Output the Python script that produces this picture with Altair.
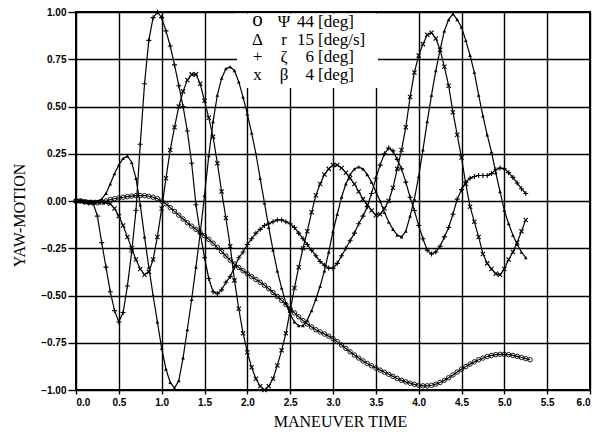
import altair as alt
import pandas as pd

# ---- sampled time grid (maneuver time) ----
T = [0.00, 0.05, 0.10, 0.15, 0.20, 0.25, 0.30, 0.35, 0.40, 0.45,
     0.50, 0.55, 0.60, 0.65, 0.70, 0.75, 0.80, 0.85, 0.90, 0.95,
     1.00, 1.05, 1.10, 1.15, 1.20, 1.25, 1.30, 1.35, 1.40, 1.45,
     1.50, 1.55, 1.60, 1.65, 1.70, 1.75, 1.80, 1.85, 1.90, 1.95,
     2.00, 2.05, 2.10, 2.15, 2.20, 2.25, 2.30, 2.35, 2.40, 2.45,
     2.50, 2.55, 2.60, 2.65, 2.70, 2.75, 2.80, 2.85, 2.90, 2.95,
     3.00, 3.05, 3.10, 3.15, 3.20, 3.25, 3.30, 3.35, 3.40, 3.45,
     3.50, 3.55, 3.60, 3.65, 3.70, 3.75, 3.80, 3.85, 3.90, 3.95,
     4.00, 4.05, 4.10, 4.15, 4.20, 4.25, 4.30, 4.35, 4.40, 4.45,
     4.50, 4.55, 4.60, 4.65, 4.70, 4.75, 4.80, 4.85, 4.90, 4.95,
     5.00, 5.05, 5.10, 5.15, 5.20, 5.25, 5.30]

# ---- Psi (heading), circles ----
PSI = [0.000, 0.000, -0.005, -0.008, -0.010, -0.010, -0.006, 0.000, 0.008, 0.012,
       0.016, 0.020, 0.023, 0.026, 0.028, 0.029, 0.028, 0.025, 0.020, 0.012,
       0.000, -0.015, -0.035, -0.055, -0.075, -0.095, -0.115, -0.133, -0.150, -0.167,
       -0.184, -0.203, -0.223, -0.245, -0.268, -0.291, -0.313, -0.333, -0.352, -0.369,
       -0.385, -0.400, -0.415, -0.430, -0.446, -0.464, -0.484, -0.505, -0.526, -0.548,
       -0.570, -0.592, -0.613, -0.633, -0.651, -0.667, -0.681, -0.693, -0.704, -0.715,
       -0.728, -0.744, -0.762, -0.780, -0.798, -0.815, -0.831, -0.846, -0.860, -0.872,
       -0.884, -0.895, -0.906, -0.917, -0.928, -0.939, -0.949, -0.957, -0.964, -0.970,
       -0.975, -0.978, -0.978, -0.975, -0.969, -0.960, -0.949, -0.935, -0.920, -0.905,
       -0.890, -0.876, -0.863, -0.851, -0.840, -0.831, -0.823, -0.817, -0.813, -0.811,
       -0.811, -0.813, -0.817, -0.822, -0.828, -0.834, -0.840]

# ---- r (yaw rate), triangles ----
R = [0.000, 0.000, -0.003, -0.005, -0.005, 0.000, 0.010, 0.040, 0.090, 0.145,
     0.190, 0.225, 0.238, 0.205, 0.120, -0.020, -0.190, -0.350, -0.500, -0.640,
     -0.780, -0.890, -0.960, -0.990, -0.950, -0.830, -0.680, -0.520, -0.350, -0.170,
     0.030, 0.240, 0.420, 0.560, 0.650, 0.700, 0.710, 0.690, 0.630, 0.550,
     0.460, 0.360, 0.250, 0.120, -0.010, -0.140, -0.260, -0.370, -0.460, -0.540,
     -0.600, -0.640, -0.660, -0.660, -0.630, -0.580, -0.520, -0.450, -0.370, -0.270,
     -0.160, -0.070, 0.020, 0.090, 0.140, 0.170, 0.180, 0.170, 0.140, 0.100,
     0.050, 0.000, -0.060, -0.110, -0.150, -0.180, -0.190, -0.160, -0.080, 0.010,
     0.130, 0.270, 0.420, 0.560, 0.690, 0.800, 0.900, 0.960, 0.990, 0.960,
     0.920, 0.850, 0.770, 0.680, 0.560, 0.450, 0.350, 0.260, 0.150, 0.050,
     -0.050, -0.120, -0.180, -0.230, -0.270, -0.300]

# ---- zeta (rudder), plus signs ----
ZETA = [0.000, 0.000, -0.005, -0.010, -0.012, -0.080, -0.220, -0.350, -0.480, -0.580,
        -0.640, -0.590, -0.450, -0.270, -0.050, 0.300, 0.620, 0.850, 0.970, 1.000,
        0.970, 0.900, 0.820, 0.720, 0.610, 0.500, 0.370, 0.200, -0.020, -0.170,
        -0.300, -0.410, -0.480, -0.490, -0.470, -0.430, -0.400, -0.350, -0.300, -0.270,
        -0.230, -0.200, -0.170, -0.150, -0.130, -0.120, -0.110, -0.100, -0.100, -0.110,
        -0.120, -0.140, -0.170, -0.200, -0.230, -0.260, -0.290, -0.320, -0.340, -0.355,
        -0.355, -0.330, -0.290, -0.250, -0.210, -0.170, -0.120, -0.080, -0.030, 0.040,
        0.120, 0.190, 0.250, 0.280, 0.265, 0.220, 0.170, 0.100, 0.020, -0.050,
        -0.130, -0.200, -0.260, -0.280, -0.270, -0.240, -0.190, -0.140, -0.070, 0.010,
        0.060, 0.100, 0.120, 0.130, 0.135, 0.135, 0.135, 0.145, 0.165, 0.175,
        0.170, 0.150, 0.125, 0.095, 0.065, 0.040]

# ---- beta (drift angle), x marks ----
BETA = [0.000, 0.000, -0.003, -0.005, -0.005, -0.005, -0.005, -0.008, -0.015, -0.040,
        -0.080, -0.130, -0.190, -0.250, -0.310, -0.360, -0.390, -0.375, -0.310, -0.190,
        -0.040, 0.120, 0.270, 0.390, 0.500, 0.580, 0.640, 0.670, 0.670, 0.620,
        0.530, 0.440, 0.340, 0.200, 0.050, -0.090, -0.240, -0.420, -0.570, -0.700,
        -0.800, -0.880, -0.940, -0.980, -1.000, -0.980, -0.940, -0.870, -0.790, -0.700,
        -0.580, -0.460, -0.350, -0.250, -0.160, -0.060, 0.030, 0.090, 0.140, 0.170,
        0.190, 0.190, 0.175, 0.150, 0.120, 0.090, 0.050, 0.010, -0.020, -0.050,
        -0.075, -0.070, -0.040, 0.000, 0.070, 0.170, 0.270, 0.390, 0.550, 0.680,
        0.770, 0.830, 0.880, 0.890, 0.860, 0.800, 0.710, 0.610, 0.470, 0.350,
        0.230, 0.090, -0.030, -0.110, -0.190, -0.280, -0.330, -0.360, -0.385, -0.390,
        -0.360, -0.310, -0.270, -0.220, -0.160, -0.100]

SERIES = ["psi", "r", "zeta", "beta"]
LEG_SYMBOL = ["o", "Δ", "+", "x"]
LEG_NAME = ["Ψ", "r", "ζ", "β"]
LEG_AMP = ["44", "15", "6", "4"]
LEG_UNIT = ["[deg]", "[deg/s]", "[deg]", "[deg]"]
X_TICKS = [0.0, 0.5, 1.0, 1.5, 2.0, 2.5, 3.0, 3.5, 4.0, 4.5, 5.0, 5.5, 6.0]
Y_TICKS = [-1.0, -0.75, -0.5, -0.25, 0.0, 0.25, 0.5, 0.75, 1.0]

rows = []
for name, vals in zip(SERIES, [PSI, R, ZETA, BETA]):
    for t, v in zip(T, vals):
        rows.append({"t": t, "v": v, "s": name})
df = pd.DataFrame(rows)

W, H = 514, 378

xs = alt.X("t:Q",
           scale=alt.Scale(domain=[0, 6], nice=False, zero=False),
           axis=alt.Axis(values=X_TICKS, format=".1f", title="MANEUVER TIME",
                         tickSize=4, labelPadding=3,
                         titleX=264, titleY=31, titleAlign="center",
                         titleBaseline="middle"))
ys = alt.Y("v:Q",
           scale=alt.Scale(domain=[-1, 1], nice=False, zero=False),
           axis=alt.Axis(values=Y_TICKS, format=".2f", title="YAW-MOTION",
                         tickSize=8, labelPadding=2,
                         titleX=-57, titleY=203, titleAngle=270,
                         titleAlign="center", titleBaseline="middle"))

base = alt.Chart(df)

# white box behind the legend text (hides grid there)
box = alt.Chart(pd.DataFrame({"k": [0]})).mark_rect(fill="white").encode(
    x=alt.value(161), x2=alt.value(302), y=alt.value(1.5), y2=alt.value(76))

lines = base.mark_line(color="black", strokeWidth=1.2).encode(
    x=xs, y=ys, detail="s:N", order="t:Q")

pt_psi = base.transform_filter(alt.datum.s == "psi").mark_point(
    shape="circle", filled=False, color="black", strokeWidth=0.9, size=20, opacity=1
).encode(x=xs, y=ys)
pt_r = base.transform_filter(alt.datum.s == "r").mark_point(
    shape="triangle-up", filled=True, color="black", size=14, opacity=1
).encode(x=xs, y=ys)
pt_z = base.transform_filter(alt.datum.s == "zeta").mark_point(
    shape="M-1,0L1,0M0,-1L0,1", filled=False, color="black", strokeWidth=1.1,
    size=25, opacity=1
).encode(x=xs, y=ys)
pt_b = base.transform_filter(alt.datum.s == "beta").mark_point(
    shape="M-1,-1L1,1M-1,1L1,-1", filled=False, color="black", strokeWidth=1.1,
    size=18, opacity=1
).encode(x=xs, y=ys)

# legend text, in four columns
legend_layers = []
row_y = [10, 27.5, 45, 62.5]
cols = [
    (LEG_SYMBOL, 181.5, "center"),
    (LEG_NAME, 208, "center"),
    (LEG_AMP, 238, "right"),
    (LEG_UNIT, 242, "left"),
]
for ci, (texts, cx, al) in enumerate(cols):
    for ri, txt in enumerate(texts):
        is_o = (ci == 0 and txt == "o")
        legend_layers.append(
            alt.Chart(pd.DataFrame({"txt": [txt]})).mark_text(
                align=al, baseline="middle", font="Liberation Serif",
                fontSize=21 if is_o else 17, color="black"
            ).encode(x=alt.value(cx), y=alt.value(row_y[ri] - (2 if is_o else 0)),
                     text="txt:N")
        )

chart = alt.layer(box, lines, pt_psi, pt_r, pt_z, pt_b, *legend_layers).properties(
    width=W, height=H,
    autosize=alt.AutoSizeParams(type="none"),
    padding={"left": 68, "top": 4, "right": 15, "bottom": 40},
    background="white",
).configure_view(
    stroke="black", strokeWidth=2
).configure_axis(
    grid=True, gridColor="black", gridWidth=1.4, gridOpacity=1,
    domain=False, tickColor="black", tickWidth=1.4,
    labelColor="black", labelFont="Liberation Sans", labelFontSize=10,
    labelFontWeight="bold",
    titleColor="black", titleFont="Liberation Serif", titleFontSize=16,
    titleFontWeight="normal",
)

chart.save("out.html", embed_options={"renderer": "svg", "actions": False})
